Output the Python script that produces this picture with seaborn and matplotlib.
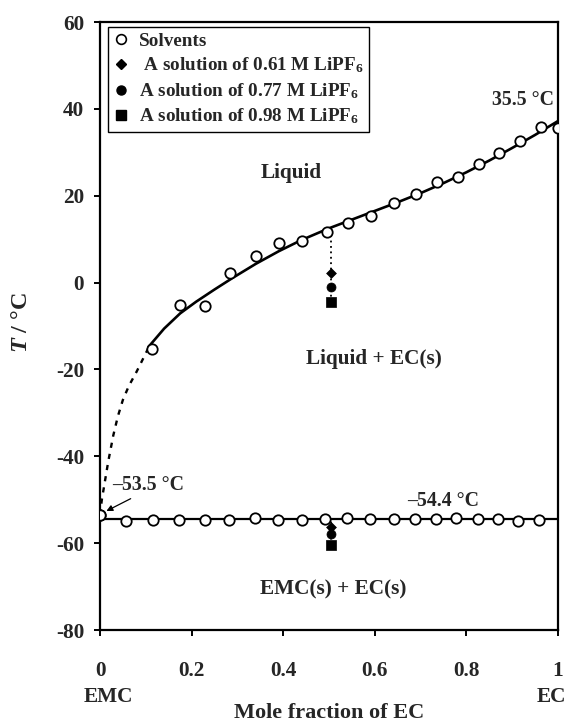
import matplotlib
matplotlib.use("Agg")
import matplotlib.pyplot as plt
import matplotlib.transforms as mtransforms
from matplotlib.lines import Line2D
import seaborn as sns

# --- data -------------------------------------------------------------
# solvent mixtures: liquidus (EC crystallisation) temperatures
liq_x = [0.0, 0.114, 0.175, 0.229, 0.283, 0.341, 0.391, 0.442, 0.495, 0.542,
         0.591, 0.643, 0.689, 0.735, 0.782, 0.828, 0.872, 0.916, 0.962, 1.0]
liq_T = [-53.5, -15.3, -5.1, -5.5, 2.1, 6.1, 9.1, 9.6, 11.7, 13.8,
         15.4, 18.3, 20.5, 23.1, 24.2, 27.3, 29.8, 32.5, 35.8, 35.5]

# solvent mixtures: eutectic (solidus) temperatures
sol_x = [0.0, 0.057, 0.115, 0.173, 0.230, 0.281, 0.338, 0.389, 0.440, 0.492,
         0.540, 0.590, 0.641, 0.687, 0.733, 0.778, 0.826, 0.870, 0.913, 0.959]
sol_T = [-53.5, -54.8, -54.6, -54.6, -54.6, -54.6, -54.3, -54.7, -54.6, -54.4,
         -54.2, -54.4, -54.5, -54.5, -54.5, -54.3, -54.4, -54.5, -54.8, -54.6]

# LiPF6 solutions at x(EC) ~ 0.505: liquidus and solidus temperatures
soln_x = 0.505
soln_labels = [" A solution of 0.61 M LiPF$_\\mathbf{6}$",
               "A solution of 0.77 M LiPF$_\\mathbf{6}$",
               "A solution of 0.98 M LiPF$_\\mathbf{6}$"]
soln_liq_T = [2.3, -1.0, -4.4]
soln_sol_T = [-56.3, -57.8, -60.5]
soln_markers = ["D", "o", "s"]
soln_sizes = [5.0, 6.5, 6.5]

# fitted liquidus curve (solid part and extrapolated dashed part)
fit_x = [0.106, 0.14, 0.175, 0.21, 0.25, 0.29, 0.34, 0.39, 0.44, 0.50,
         0.55, 0.60, 0.65, 0.70, 0.75, 0.80, 0.85, 0.90, 0.95, 1.0]
fit_T = [-14.8, -10.6, -7.1, -4.4, -1.6, 1.1, 4.3, 7.2, 9.8, 12.5,
         14.5, 16.5, 18.5, 20.6, 22.9, 25.4, 28.1, 31.0, 34.0, 37.2]
ext_x = [0.0, 0.004, 0.011, 0.018, 0.029, 0.039, 0.05, 0.063, 0.08, 0.106]
ext_T = [-53.5, -50.0, -45.6, -41.2, -35.2, -30.8, -27.0, -23.8, -20.5, -15.0]

eutectic_T = -54.4

x_ticks = [0, 0.2, 0.4, 0.6, 0.8, 1]
x_ticklabels = ["0", "0.2", "0.4", "0.6", "0.8", "1"]
y_ticks = [-80, -60, -40, -20, 0, 20, 40, 60]

# --- style ------------------------------------------------------------
sns.set_style("white")
plt.rcParams["font.family"] = ["Liberation Serif", "DejaVu Serif"]
plt.rcParams["font.weight"] = "bold"
plt.rcParams["mathtext.fontset"] = "custom"
plt.rcParams["mathtext.rm"] = "Liberation Serif:bold"
plt.rcParams["mathtext.bf"] = "Liberation Serif:bold"
plt.rcParams["mathtext.it"] = "Liberation Serif:italic:bold"
plt.rcParams["axes.unicode_minus"] = False

FS = 15.3
W, H = 566, 724
fig = plt.figure(figsize=(W / 100, H / 100), dpi=100)
ax = fig.add_axes([100 / W, 1 - 630 / H, 458 / W, 608 / H])

# --- curves -----------------------------------------------------------
sns.lineplot(x=fit_x, y=fit_T, ax=ax, color="black", lw=1.9, sort=False,
             estimator=None, zorder=2)
sns.lineplot(x=ext_x, y=ext_T, ax=ax, color="black", lw=1.7, sort=False,
             estimator=None, zorder=2, dashes=False)
ax.lines[-1].set_linestyle((0, (2.2, 2.6)))
sns.lineplot(x=[0, 1], y=[eutectic_T, eutectic_T], ax=ax, color="black",
             lw=1.6, estimator=None, zorder=2)

# dotted guides under the solution points
sns.lineplot(x=[soln_x, soln_x], y=[liq_T[8], soln_liq_T[-1]], ax=ax,
             color="black", lw=1.3, estimator=None, zorder=1)
ax.lines[-1].set_linestyle((0, (1, 2)))
sns.lineplot(x=[soln_x, soln_x], y=[eutectic_T, soln_sol_T[-1]], ax=ax,
             color="black", lw=1.3, estimator=None, zorder=1)
ax.lines[-1].set_linestyle((0, (1, 2)))

# --- points -----------------------------------------------------------
circ = dict(marker="o", s=56, facecolor="white", edgecolor="black",
            linewidth=1.3, zorder=4)
sns.scatterplot(x=sol_x, y=sol_T, ax=ax, **circ)
sns.scatterplot(x=liq_x, y=liq_T, ax=ax, **circ)

for T_l, T_s, m, ms in zip(soln_liq_T, soln_sol_T, soln_markers, soln_sizes):
    sns.scatterplot(x=[soln_x, soln_x], y=[T_l, T_s], ax=ax, marker=m,
                    s=ms ** 2, color="black", edgecolor="black",
                    linewidth=0.5, zorder=5)

# --- axes -------------------------------------------------------------
ax.set_xlim(0, 1)
ax.set_ylim(-80, 60)
ax.set_xticks(x_ticks)
ax.set_xticklabels(x_ticklabels)
ax.set_yticks(y_ticks)
for sp in ax.spines.values():
    sp.set_linewidth(1.6)
    sp.set_color("black")
ax.tick_params(axis="both", which="both", direction="out", length=4.5,
               width=1.4, color="black", labelsize=FS, left=True, bottom=True)
ax.tick_params(axis="x", pad=18)
ax.tick_params(axis="y", pad=7)
for lab in ax.get_xticklabels() + ax.get_yticklabels():
    lab.set_fontweight("bold")
ax.grid(False)

ax.text(-0.172, 0.505, "$\\mathit{T}$ / °C", transform=ax.transAxes,
        rotation=90, ha="center", va="center", fontsize=17.5)

trans = mtransforms.blended_transform_factory(ax.transData, fig.transFigure)
ax.text(0.018, 1 - 697 / H, "EMC", transform=trans, ha="center",
        va="center", fontsize=FS, fontweight="bold")
ax.text(0.985, 1 - 697 / H, "EC", transform=trans, ha="center",
        va="center", fontsize=FS, fontweight="bold")
fig.text(329 / W, 1 - 718 / H, "Mole fraction of EC", ha="center",
         va="baseline", fontsize=16, fontweight="bold")

# --- region labels and annotations -----------------------------------
ax.text(0.417, 25.3, "Liquid", ha="center", va="center", fontsize=FS)
ax.text(0.598, -17.7, "Liquid + EC(s)", ha="center", va="center",
        fontsize=FS)
ax.text(0.51, -70.6, "EMC(s) + EC(s)", ha="center", va="center",
        fontsize=FS)
ax.text(0.991, 42.0, "35.5 °C", ha="right", va="center", fontsize=FS - 1)
ax.text(0.67, -50.2, "–54.4 °C", ha="left", va="center", fontsize=FS - 1)
ax.annotate("–53.5 °C", xy=(0.014, -52.6), xytext=(0.026, -46.7),
            ha="left", va="center", fontsize=FS - 1,
            arrowprops=dict(arrowstyle="-|>", color="black", lw=0.9,
                            mutation_scale=9, shrinkA=0, shrinkB=0,
                            relpos=(0.35, 0.0)))

# --- legend -----------------------------------------------------------
handles = [Line2D([], [], ls="", marker="o", ms=7, mfc="white",
                  mec="black", mew=1.2, label="Solvents")]
for lab, m, ms in zip(soln_labels, soln_markers, soln_sizes):
    handles.append(Line2D([], [], ls="", marker=m, ms=ms, color="black",
                          label=lab))
leg = ax.legend(handles=handles, loc="upper left",
                bbox_to_anchor=(0.0175, 0.992), borderaxespad=0,
                frameon=True, fancybox=False, edgecolor="black",
                framealpha=1, handlelength=0.8, handletextpad=0.5,
                labelspacing=0.3, borderpad=0.3,
                prop=dict(family="Liberation Serif", weight="bold",
                          size=13.8))
leg.get_frame().set_linewidth(1.0)

fig.savefig("out.png", dpi=100)
